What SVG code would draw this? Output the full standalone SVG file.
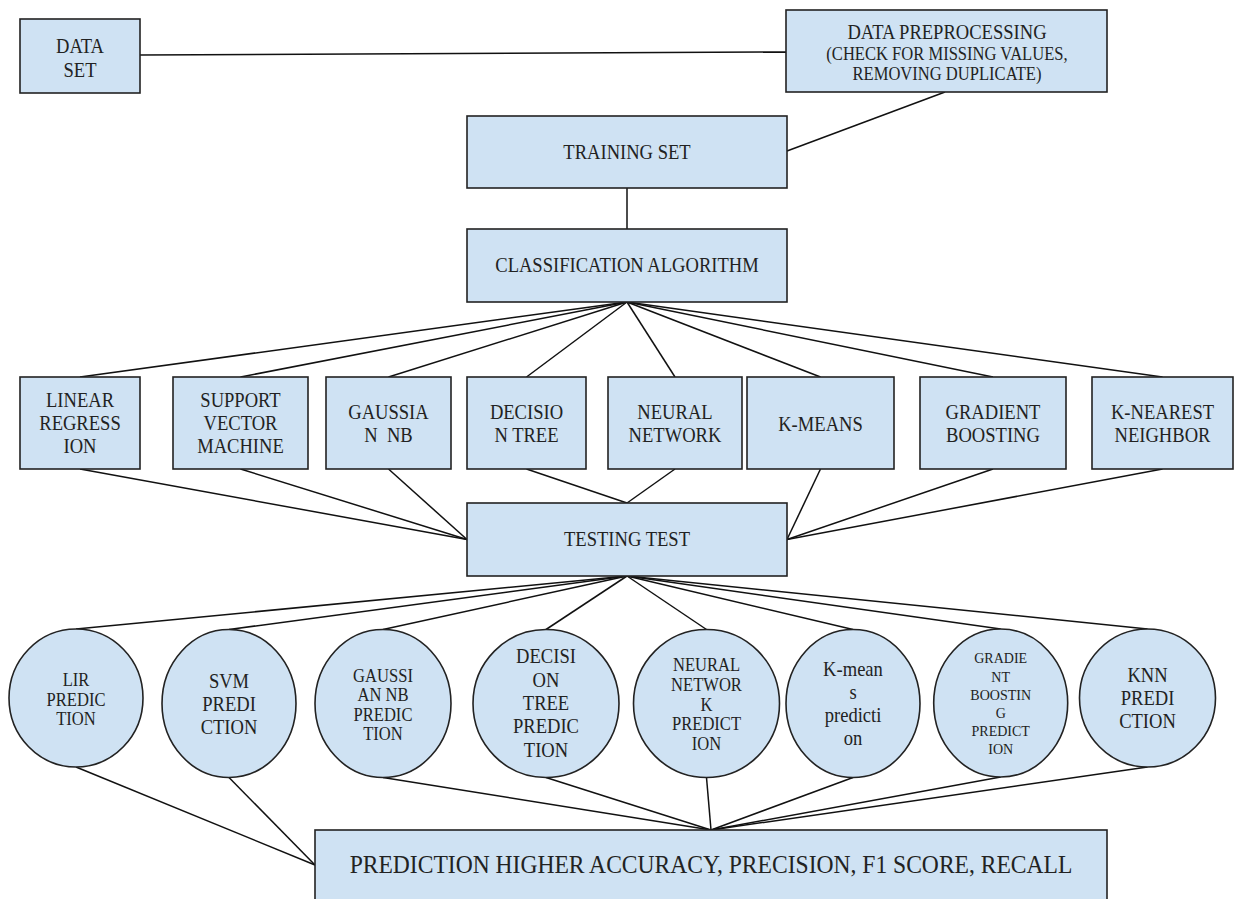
<svg xmlns="http://www.w3.org/2000/svg" width="1235" height="899" viewBox="0 0 1235 899">
<style>
.box{fill:#cfe2f3;stroke:#222;stroke-width:1.6}
.t{font-family:"Liberation Serif","Times New Roman",serif;fill:#222;text-anchor:middle;font-size:20.4px;transform-box:fill-box;transform-origin:center;transform:scaleX(0.91)}
.s16{font-size:18.2px}
.s14{font-size:15.4px}
.s23{font-size:25.9px}
#connectors line{stroke:#111;stroke-width:1.5}
</style>
<rect width="1235" height="899" fill="#fff"/>
<g id="connectors">
<line x1="140" y1="55" x2="786" y2="52"/>
<line x1="945" y1="92" x2="787" y2="151"/>
<line x1="627" y1="188" x2="627" y2="229"/>
<line x1="627" y1="302" x2="80" y2="377"/>
<line x1="627" y1="302" x2="240.5" y2="377"/>
<line x1="627" y1="302" x2="388.5" y2="377"/>
<line x1="627" y1="302" x2="526.5" y2="377"/>
<line x1="627" y1="302" x2="675" y2="377"/>
<line x1="627" y1="302" x2="820.5" y2="377"/>
<line x1="627" y1="302" x2="993" y2="377"/>
<line x1="627" y1="302" x2="1162.5" y2="377"/>
<line x1="80" y1="469" x2="467" y2="539.5"/>
<line x1="240.5" y1="469" x2="467" y2="539.5"/>
<line x1="388.5" y1="469" x2="467" y2="539.5"/>
<line x1="526.5" y1="469" x2="627" y2="503"/>
<line x1="675" y1="469" x2="627" y2="503"/>
<line x1="820.5" y1="469" x2="787" y2="539.5"/>
<line x1="993" y1="469" x2="787" y2="539.5"/>
<line x1="1162.5" y1="469" x2="787" y2="539.5"/>
<line x1="627" y1="576" x2="76" y2="629"/>
<line x1="627" y1="576" x2="229" y2="629.5"/>
<line x1="627" y1="576" x2="383" y2="629.5"/>
<line x1="627" y1="576" x2="546" y2="629.5"/>
<line x1="627" y1="576" x2="706.5" y2="629.5"/>
<line x1="627" y1="576" x2="853" y2="629.5"/>
<line x1="627" y1="576" x2="1000.7" y2="629"/>
<line x1="627" y1="576" x2="1147.5" y2="629"/>
<line x1="76" y1="767" x2="315" y2="865"/>
<line x1="229" y1="777.5" x2="315" y2="865"/>
<line x1="383" y1="777.5" x2="711" y2="830"/>
<line x1="546" y1="777.5" x2="711" y2="830"/>
<line x1="706.5" y1="777.5" x2="711" y2="830"/>
<line x1="853" y1="777.5" x2="711" y2="830"/>
<line x1="1000.7" y1="777" x2="711" y2="830"/>
<line x1="1147.5" y1="767" x2="711" y2="830"/>
</g>
<g id="n-dataset"><rect class="box" x="20" y="19" width="120" height="74"/><text class="t" x="80" y="53">DATA</text><text class="t" x="80" y="77">SET</text></g>
<g id="n-preprocessing"><rect class="box" x="786" y="10" width="321" height="82"/><text class="t" x="947" y="39">DATA PREPROCESSING</text><text class="t s16" x="947" y="60">(CHECK FOR MISSING VALUES,</text><text class="t s16" x="947" y="80">REMOVING DUPLICATE)</text></g>
<g id="n-training"><rect class="box" x="467" y="116" width="320" height="72"/><text class="t" x="627" y="159">TRAINING SET</text></g>
<g id="n-classification"><rect class="box" x="467" y="229" width="320" height="73"/><text class="t" x="627" y="272">CLASSIFICATION ALGORITHM</text></g>
<g id="n-linear"><rect class="box" x="20" y="377" width="120" height="92"/><text class="t" x="80" y="407">LINEAR</text><text class="t" x="80" y="430">REGRESS</text><text class="t" x="80" y="453">ION</text></g>
<g id="n-svm"><rect class="box" x="173" y="377" width="135" height="92"/><text class="t" x="240.5" y="407">SUPPORT</text><text class="t" x="240.5" y="430">VECTOR</text><text class="t" x="240.5" y="453">MACHINE</text></g>
<g id="n-gaussian"><rect class="box" x="326" y="377" width="125" height="92"/><text class="t" x="388.5" y="419">GAUSSIA</text><text class="t" x="388.5" y="442" xml:space="preserve">N  NB</text></g>
<g id="n-decision"><rect class="box" x="467" y="377" width="119" height="92"/><text class="t" x="526.5" y="419">DECISIO</text><text class="t" x="526.5" y="442">N TREE</text></g>
<g id="n-neural"><rect class="box" x="608" y="377" width="134" height="92"/><text class="t" x="675" y="419">NEURAL</text><text class="t" x="675" y="442">NETWORK</text></g>
<g id="n-kmeans"><rect class="box" x="747" y="377" width="147" height="92"/><text class="t" x="820.5" y="431">K-MEANS</text></g>
<g id="n-gradient"><rect class="box" x="920" y="377" width="146" height="92"/><text class="t" x="993" y="419">GRADIENT</text><text class="t" x="993" y="442">BOOSTING</text></g>
<g id="n-knn"><rect class="box" x="1092" y="377" width="141" height="92"/><text class="t" x="1162.5" y="419">K-NEAREST</text><text class="t" x="1162.5" y="442">NEIGHBOR</text></g>
<g id="n-testing"><rect class="box" x="467" y="503" width="320" height="73"/><text class="t" x="627" y="546">TESTING TEST</text></g>
<g id="c-lir"><ellipse class="box" cx="76" cy="698" rx="67" ry="69"/><text class="t s16" x="76" y="686">LIR</text><text class="t s16" x="76" y="706">PREDIC</text><text class="t s16" x="76" y="725">TION</text></g>
<g id="c-svm"><ellipse class="box" cx="229" cy="703.5" rx="67" ry="74"/><text class="t" x="229" y="688">SVM</text><text class="t" x="229" y="711">PREDI</text><text class="t" x="229" y="734">CTION</text></g>
<g id="c-gaussian"><ellipse class="box" cx="383" cy="703.5" rx="68" ry="74"/><text class="t s16" x="383" y="682">GAUSSI</text><text class="t s16" x="383" y="701">AN NB</text><text class="t s16" x="383" y="721">PREDIC</text><text class="t s16" x="383" y="740">TION</text></g>
<g id="c-decision"><ellipse class="box" cx="546" cy="703.5" rx="73" ry="74"/><text class="t" x="546" y="663">DECISI</text><text class="t" x="546" y="687">ON</text><text class="t" x="546" y="710">TREE</text><text class="t" x="546" y="733">PREDIC</text><text class="t" x="546" y="757">TION</text></g>
<g id="c-neural"><ellipse class="box" cx="706.5" cy="703.5" rx="73" ry="74"/><text class="t s16" x="706.5" y="671">NEURAL</text><text class="t s16" x="706.5" y="691">NETWOR</text><text class="t s16" x="706.5" y="711">K</text><text class="t s16" x="706.5" y="730">PREDICT</text><text class="t s16" x="706.5" y="750">ION</text></g>
<g id="c-kmeans"><ellipse class="box" cx="853" cy="703.5" rx="67" ry="74"/><text class="t" x="853" y="676">K-mean</text><text class="t" x="853" y="699">s</text><text class="t" x="853" y="722">predicti</text><text class="t" x="853" y="745">on</text></g>
<g id="c-gradient"><ellipse class="box" cx="1000.7" cy="703" rx="67" ry="74"/><text class="t s14" x="1000.7" y="663">GRADIE</text><text class="t s14" x="1000.7" y="682">NT</text><text class="t s14" x="1000.7" y="700">BOOSTIN</text><text class="t s14" x="1000.7" y="718">G</text><text class="t s14" x="1000.7" y="736">PREDICT</text><text class="t s14" x="1000.7" y="754">ION</text></g>
<g id="c-knn"><ellipse class="box" cx="1147.5" cy="698" rx="68" ry="69"/><text class="t" x="1147.5" y="682">KNN</text><text class="t" x="1147.5" y="705">PREDI</text><text class="t" x="1147.5" y="728">CTION</text></g>
<g id="n-result"><rect class="box" x="315" y="830" width="792" height="80"/><text class="t s23" x="711" y="873">PREDICTION HIGHER ACCURACY, PRECISION, F1 SCORE, RECALL</text></g>
</svg>
